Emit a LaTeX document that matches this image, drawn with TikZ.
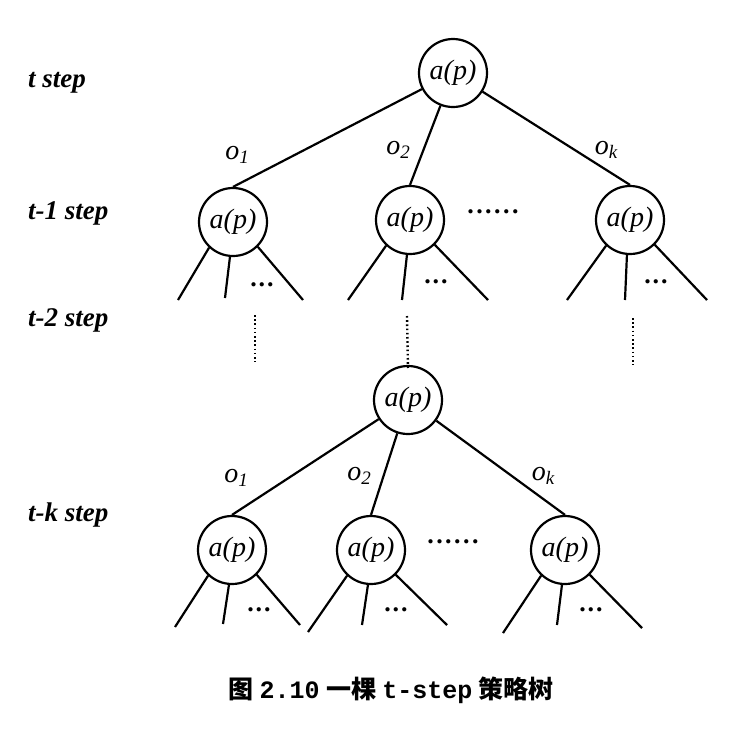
\documentclass[tikz,border=0pt]{standalone}
\usepackage{fontspec}
\setmainfont{Liberation Serif}
\newfontfamily\cjk{Noto Sans CJK SC}
\newfontfamily\monof{Liberation Mono}
\begin{document}
\begin{tikzpicture}[x=1pt,y=-1pt,
  state/.style={circle,draw,line width=2.2pt,minimum size=68pt,inner sep=0pt,font=\fontsize{28}{30}\selectfont\itshape},
  edge/.style={line width=2.2pt},
  vdots/.style={line width=2.4pt,dash pattern=on 1.6pt off 2.6pt},
  lbl/.style={font=\fontsize{28}{30}\selectfont\itshape,inner sep=0pt},
  steplbl/.style={font=\fontsize{27}{30}\selectfont\itshape\bfseries,anchor=west,inner sep=0pt},
  dotsl/.style={font=\fontsize{26}{28}\selectfont\bfseries,inner sep=0pt}
]
\useasboundingbox (0,0) rectangle (746,734);

% step labels
\node[steplbl] (s0) at (28,83) {t step};
\node[steplbl] (s1) at (28,213) {t-1 step};
\node[steplbl] (s2) at (28,320) {t-2 step};
\node[steplbl] (sk) at (28,515) {t-k step};

% upper tree
\node[state] (r) at (453,73) {a(p)};
\node[state] (a1) at (233,222) {a(p)};
\node[state] (a2) at (410,220) {a(p)};
\node[state] (a3) at (630,220) {a(p)};
\draw[edge] (r) -- (a1.north);
\draw[edge] (r) -- (a2.north);
\draw[edge] (r) -- (a3.north);
\node[lbl] (o1u) at (237,155) {o\raisebox{-0.35ex}{\fontsize{19}{20}\selectfont 1}};
\node[lbl] (o2u) at (398,150) {o\raisebox{-0.35ex}{\fontsize{19}{20}\selectfont 2}};
\node[lbl] (oku) at (606,150) {o\raisebox{-0.35ex}{\fontsize{19}{20}\selectfont k}};
\node[dotsl] (hu) at (493,212) {.\kern2.5pt.\kern2.5pt.\kern2.5pt.\kern2.5pt.\kern2.5pt.};

% leaves of upper level
\coordinate (a1l) at (178,300); \coordinate (a1m) at (225,298); \coordinate (a1r) at (303,300);
\coordinate (a2l) at (348,300); \coordinate (a2m) at (402,300); \coordinate (a2r) at (488,300);
\coordinate (a3l) at (567,300); \coordinate (a3m) at (625,300); \coordinate (a3r) at (707,300);
\foreach \n in {a1,a2,a3}{
  \draw[edge] (\n.-133) -- (\n l);
  \draw[edge] (\n.-95) -- (\n m);
  \draw[edge] (\n.-45) -- (\n r);
}
\node[dotsl] (d1) at (262,285) {.\kern2pt.\kern2pt.};
\node[dotsl] (d2) at (436,282) {.\kern2pt.\kern2pt.};
\node[dotsl] (d3) at (656,282) {.\kern2pt.\kern2pt.};

% vertical dotted lines
\coordinate (v1t) at (255,315); \coordinate (v1b) at (255,362);
\coordinate (v2t) at (407,316);
\coordinate (v3t) at (633,318); \coordinate (v3b) at (633,365);
\node[state] (m) at (408,400) {a(p)};
\draw[vdots] (v1t) -- (v1b);
\draw[vdots] (v2t) -- ([yshift=-5pt]m.north);
\draw[vdots] (v3t) -- (v3b);

% lower tree
\node[state] (b1) at (232,550) {a(p)};
\node[state] (b2) at (371,550) {a(p)};
\node[state] (b3) at (565,550) {a(p)};
\draw[edge] (m) -- (b1.north);
\draw[edge] (m) -- (b2.north);
\draw[edge] (m) -- (b3.north);
\node[lbl] (o1d) at (236,478) {o\raisebox{-0.35ex}{\fontsize{19}{20}\selectfont 1}};
\node[lbl] (o2d) at (359,476) {o\raisebox{-0.35ex}{\fontsize{19}{20}\selectfont 2}};
\node[lbl] (okd) at (543,476) {o\raisebox{-0.35ex}{\fontsize{19}{20}\selectfont k}};
\node[dotsl] (hd) at (453,542) {.\kern2.5pt.\kern2.5pt.\kern2.5pt.\kern2.5pt.\kern2.5pt.};

\coordinate (b1l) at (175,627); \coordinate (b1m) at (223,624); \coordinate (b1r) at (300,625);
\coordinate (b2l) at (308,632); \coordinate (b2m) at (362,625); \coordinate (b2r) at (447,625);
\coordinate (b3l) at (503,633); \coordinate (b3m) at (557,625); \coordinate (b3r) at (642,628);
\foreach \n in {b1,b2,b3}{
  \draw[edge] (\n.-133) -- (\n l);
  \draw[edge] (\n.-95) -- (\n m);
  \draw[edge] (\n.-45) -- (\n r);
}
\node[dotsl] (e1) at (259,610) {.\kern2pt.\kern2pt.};
\node[dotsl] (e2) at (396,610) {.\kern2pt.\kern2pt.};
\node[dotsl] (e3) at (591,610) {.\kern2pt.\kern2pt.};

% caption
\node[font=\fontsize{25}{28}\selectfont\bfseries,inner sep=0pt] (cap) at (391,690)
  {{\cjk 图} {\monof 2.10} {\cjk 一棵} {\monof t-step} {\cjk 策略树}};
\end{tikzpicture}
\end{document}
